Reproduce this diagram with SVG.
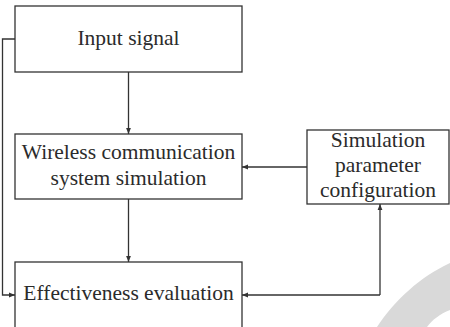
<svg xmlns="http://www.w3.org/2000/svg" width="450" height="327" viewBox="0 0 450 327">
<style>
.box{fill:#fff;stroke:#333;stroke-width:1.3}
.t{font-family:"Liberation Serif","Times New Roman",serif;font-size:21.5px;fill:#2b2b2b;text-anchor:middle}
.c{fill:none;stroke:#333;stroke-width:1.3}
</style>
<defs>
<marker id="ah" viewBox="0 0 10 10" refX="10" refY="5" markerWidth="6" markerHeight="6" markerUnits="userSpaceOnUse" orient="auto">
<path d="M0,1 L10,5 L0,9 Z" fill="#333"/>
</marker>
</defs>
<rect width="450" height="327" fill="#fff"/>
<path d="M377,327 C395,300 420,277 450,263 L450,310 C440,314 432,320 427,327 Z" fill="#d9d9d9"/>
<g id="connectors">
<path class="c" d="M128.5,72 V134" marker-end="url(#ah)"/>
<path class="c" d="M128.5,199 V262" marker-end="url(#ah)"/>
<path class="c" d="M307,167 H242" marker-end="url(#ah)"/>
<path class="c" d="M15,39 H2.5 V295 H15" marker-end="url(#ah)"/>
<path class="c" d="M380,295 H242" marker-end="url(#ah)"/>
<path class="c" d="M380,295 V204" marker-end="url(#ah)"/>
</g>
<g id="input">
<rect class="box" x="15" y="6" width="227" height="66"/>
<text class="t" x="128.5" y="44.5">Input signal</text>
</g>
<g id="wireless">
<rect class="box" x="15" y="134" width="227" height="65"/>
<text class="t" x="128.5" y="159">Wireless communication</text>
<text class="t" x="128.5" y="185">system simulation</text>
</g>
<g id="config">
<rect class="box" x="307" y="130" width="142" height="74"/>
<text class="t" x="378" y="147">Simulation</text>
<text class="t" x="378" y="172">parameter</text>
<text class="t" x="378" y="197">configuration</text>
</g>
<g id="effectiveness">
<rect class="box" x="15" y="262" width="227" height="80"/>
<text class="t" x="128.5" y="300">Effectiveness evaluation</text>
</g>
</svg>
